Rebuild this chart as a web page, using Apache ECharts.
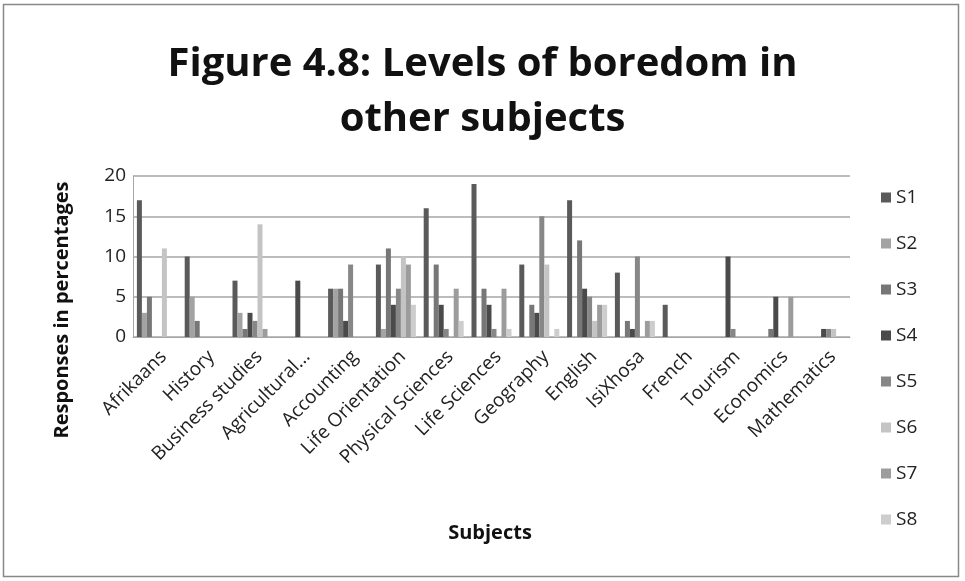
<!DOCTYPE html>
<html><head><meta charset="utf-8">
<script src="https://cdn.jsdelivr.net/npm/echarts@6/dist/echarts.min.js"></script>
<style>html,body{margin:0;padding:0;background:#fff}#c{width:965px;height:581px}</style>
</head><body><div id="c"></div>
<script>
const categories = ["Afrikaans","History","Business studies","Agricultural...","Accounting","Life Orientation","Physical Sciences","Life Sciences","Geography","English","IsiXhosa","French","Tourism","Economics","Mathematics"];
const S1 = [17,10,7,0,6,9,16,19,9,17,8,4,0,0,0];
const S2 = [3,5,3,0,6,1,0,0,0,0,0,0,0,0,0];
const S3 = [5,2,1,0,6,11,9,6,4,12,2,0,0,1,0];
const S4 = [0,0,3,7,2,4,4,4,3,6,1,0,10,5,1];
const S5 = [0,0,2,0,9,6,1,1,15,5,10,0,1,0,1];
const S6 = [11,0,14,0,0,10,0,0,9,2,0,0,0,0,1];
const S7 = [0,0,1,0,0,9,6,6,0,4,2,0,0,5,0];
const S8 = [0,0,0,0,0,4,2,1,1,4,2,0,0,0,0];
const seriesNames = ["S1","S2","S3","S4","S5","S6","S7","S8"];
const seriesData = [S1,S2,S3,S4,S5,S6,S7,S8];
const colors = ["#5a5a5a","#a3a3a3","#777777","#4a4a4a","#878787","#c4c4c4","#9c9c9c","#cdcdcd"];
const yTicks = {min:0,max:20,interval:5};

const FONT = "'Open Sans',sans-serif";
const chart = echarts.init(document.getElementById('c'));
chart.setOption({
  animation:false,
  backgroundColor:'#fff',
  color: colors,
  title:{text:'Figure 4.8: Levels of boredom in\nother subjects', left:'center', top:32, textStyle:{fontFamily:FONT, fontWeight:'bold', fontSize:40, lineHeight:55, color:'#111'}},
  legend:{orient:'vertical', left:876, top:183, itemWidth:10, itemHeight:10, itemGap:27, icon:'rect',
    textStyle:{fontFamily:FONT, fontSize:19, color:'#222'}, data:seriesNames},
  grid:{left:133, right:115, top:176, bottom:244},
  xAxis:{type:'category', data:categories,
    axisLine:{lineStyle:{color:'#a6a6a6'}}, axisTick:{show:false},
    axisLabel:{rotate:45, interval:0, fontFamily:FONT, fontSize:19, color:'#222', margin:10, verticalAlign:'top'}},
  yAxis:{type:'value', min:yTicks.min, max:yTicks.max, interval:yTicks.interval,
    axisLine:{show:true, lineStyle:{color:'#a6a6a6'}}, axisTick:{show:false},
    splitLine:{lineStyle:{color:'#a6a6a6', width:1.5}},
    axisLabel:{fontFamily:FONT, fontSize:19, color:'#222', margin:7}},
  graphic:[
    {type:'rect', shape:{x:3.5,y:4.5,width:955,height:572}, style:{fill:'none', stroke:'#888', lineWidth:1.5}, silent:true},
    {type:'text', x:62, y:310, rotation:Math.PI/2, style:{text:'Responses in percentages', fontFamily:FONT, fontWeight:'bold', fontSize:20, fill:'#111', textAlign:'center', textVerticalAlign:'middle'}},
    {type:'text', x:490, y:533, style:{text:'Subjects', fontFamily:FONT, fontWeight:'bold', fontSize:20, fill:'#111', textAlign:'center', textVerticalAlign:'middle'}}
  ],
  series: seriesNames.map((n,i)=>({name:n, type:'bar', data:seriesData[i], barWidth:5, barGap:'0%'}))
});
</script></body></html>
